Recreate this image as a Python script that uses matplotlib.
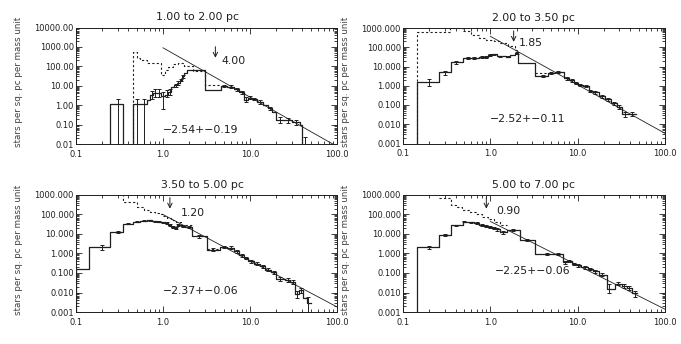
import numpy as np
import matplotlib
matplotlib.use("Agg")
import matplotlib.pyplot as plt
from matplotlib import ticker

# ---- data ----
titles = ["1.00 to 2.00 pc", "2.00 to 3.50 pc", "3.50 to 5.00 pc", "5.00 to 7.00 pc"]
fit_amp = [900, 370, 100, 44]          # fit value at 1 Msun
fit_slope = [-2.54, -2.52, -2.37, -2.25]
slope_err = [0.19, 0.11, 0.06, 0.06]
arrow_mass = [4.00, 1.85, 1.20, 0.90]
ylims = [(0.01, 1e4), (0.001, 1e3), (0.001, 1e3), (0.001, 1e3)]

# panel 1
p1_edges = [0.245, 0.346, 0.447, 0.548, 0.648, 0.707, 0.775, 0.85, 0.95, 1.05,
            1.15, 1.25, 1.35, 1.45, 1.55, 1.65, 1.75, 1.87, 3.04, 4.6,
            5.5, 6.5, 7.5, 8.5, 9.5, 10.5, 12, 14, 16, 18,
            20, 25, 30, 38, 39.5, 47]
p1_vals = [1.1, 0, 1.1, 1.1, 1.8, 3.3, 4.0, 4.2, 3.0, 3.2,
           5, 9, 11, 14, 20, 30, 45, 62, 5.8, 10,
           9, 6.5, 4.5, 1.9, 2.4, 2.1, 1.5, 1.0, 0.7, 0.45,
           0.18, 0.17, 0.13, 0.10, 0.003]
d1_edges = [0.447, 0.50, 0.548, 0.648, 0.85, 0.95, 1.05, 1.15, 1.3, 1.5, 1.75, 2.2, 3.04, 4.6]
d1_vals = [525, 255, 210, 155, 150, 35, 65, 96, 130, 150, 110, 60, 11]
e1_m = [0.3, 0.5, 0.6, 0.74, 0.81, 0.9, 1.0, 1.1, 1.2, 1.4, 1.5, 1.6, 1.7,
        5.0, 6.0, 7.0, 8.0, 9.0, 10.0, 11.2, 13, 17, 22, 27, 34, 43]
e1_lo = [0.01, 0.01, 0.01, 2.0, 2.5, 2.5, 0.6, 2.6, 3.5, 9, 11, 17, 26,
         8.5, 7.5, 5.5, 3.8, 1.4, 2.0, 1.8, 1.2, 0.55, 0.12, 0.12, 0.09, 0.001]
e1_hi = [2.1, 2.1, 2.1, 5.5, 7.0, 7.0, 4.5, 6.0, 6.5, 13, 17, 23, 34,
         11.5, 10.5, 7.5, 5.2, 2.6, 2.8, 2.4, 1.8, 0.85, 0.25, 0.22, 0.17, 0.023]

# panel 2
p2_edges = [0.144, 0.26, 0.357, 0.485, 0.55, 0.65, 0.75, 0.85, 0.95, 1.05,
            1.2, 1.35, 1.5, 1.7, 1.9, 2.1, 3.24, 4.6, 5.5, 6.9,
            8, 9, 10, 11.5, 13.5, 15, 17.5, 20.5, 24, 28,
            32, 38.5, 46]
p2_vals = [1.6, 5.4, 17.8, 28, 29, 28, 30, 31, 40, 43,
           37, 34, 33, 38, 50, 16, 3.3, 4.6, 5, 2.4,
           1.9, 1.4, 1.1, 1.0, 0.55, 0.45, 0.28, 0.2, 0.12, 0.08,
           0.035, 0.035]
d2_edges = [0.144, 0.345, 0.49, 0.6, 0.75, 0.9, 1.1, 1.3, 1.6, 1.9, 2.1, 3.24, 4.6]
d2_vals = [650, 950, 700, 450, 300, 240, 200, 160, 110, 70, np.nan, 4.8]
e2_m = [0.2, 0.3, 0.4, 0.55, 0.65, 0.8, 0.9, 1.0, 1.1, 1.3, 1.6, 2.0,
        4.0, 5.0, 6.0, 7.5, 8.5, 9.5, 10.5, 12.5, 14, 16, 19, 22, 26, 30, 35, 42]
e2_lo = [1.0, 3.8, 14, 25, 25, 27, 28, 36, 39, 31, 30, 45,
         2.9, 4.1, 4.5, 2.1, 1.6, 1.2, 0.95, 0.85, 0.47, 0.38, 0.23, 0.16, 0.1, 0.065, 0.025, 0.028]
e2_hi = [2.3, 6.0, 20, 31, 31, 34, 34, 44, 47, 37, 36, 55,
         3.7, 5.1, 5.5, 2.7, 2.2, 1.6, 1.25, 1.15, 0.63, 0.52, 0.33, 0.24, 0.14, 0.1, 0.045, 0.045]

# panel 3
p3_edges = [0.1, 0.141, 0.245, 0.346, 0.447, 0.55, 0.65, 0.75, 0.85, 0.95,
            1.05, 1.15, 1.25, 1.35, 1.45, 1.6, 1.8, 2.14, 3.17, 4.5,
            5.5, 6.5, 7.5, 8.5, 9.5, 11, 13, 15, 17.5, 20,
            25, 29, 33, 37, 41, 45, 50]
p3_vals = [0.155, 2.1, 13, 34, 42, 48, 50, 45, 42, 40,
           37, 30, 24, 21, 28, 25, 24, 7.5, 1.6, 2.2,
           2.0, 1.3, 0.8, 0.6, 0.4, 0.3, 0.22, 0.15, 0.11, 0.05,
           0.045, 0.035, 0.008, 0.014, 0.005, 0.003]
d3_edges = [0.245, 0.346, 0.5, 0.6, 0.7, 0.8, 0.9, 1.0, 1.1, 1.25, 1.4, 1.6, 2.14, 3.17, 4.5]
d3_vals = [2000, 435, 250, 180, 140, 115, 100, 88, 70, 55, 40, 30, np.nan, 1.8]
e3_m = [0.2, 0.3, 0.4, 0.5, 0.6, 0.7, 0.8, 0.9, 1.0, 1.1, 1.2, 1.3, 1.4, 1.5, 1.7, 2.0,
        2.6, 3.8, 5.0, 6.0, 7.0, 8.0, 9.0, 10.2, 12, 14, 16, 19, 22, 27, 31, 35, 39, 47]
e3_lo = [1.6, 11, 31, 39, 45, 47, 42, 39, 37, 34, 27, 21, 19, 25, 22, 21,
         6.5, 1.4, 1.9, 1.7, 1.1, 0.7, 0.5, 0.34, 0.26, 0.18, 0.12, 0.09, 0.04, 0.036, 0.027,
         0.005, 0.009, 0.001]
e3_hi = [2.8, 15, 37, 45, 51, 53, 48, 45, 43, 40, 33, 27, 24, 31, 28, 27,
         8.5, 1.9, 2.5, 2.3, 1.5, 0.92, 0.7, 0.46, 0.35, 0.26, 0.18, 0.13, 0.062, 0.056, 0.045,
         0.012, 0.018, 0.006]

# panel 4
p4_edges = [0.143, 0.26, 0.357, 0.485, 0.55, 0.65, 0.75, 0.85, 0.95, 1.05,
            1.15, 1.3, 1.55, 2.2, 3.24, 6.86, 7.5, 8.5, 9.5, 11,
            13, 15, 17.5, 21.5, 27, 32, 37, 42, 48]
p4_vals = [2.1, 9, 28, 42, 40, 36, 30, 26, 24, 21,
           18, 12, 16, 4.8, 0.95, 0.36, 0.4, 0.3, 0.25, 0.2,
           0.16, 0.12, 0.08, 0.016, 0.028, 0.022, 0.018, 0.009]
d4_edges = [0.26, 0.357, 0.40, 0.48, 0.58, 0.68, 0.8, 0.95, 1.1, 1.3, 1.55]
d4_vals = [680, 320, 230, 170, 130, 100, 75, 60, 42, 28]
e4_m = [0.2, 0.3, 0.4, 0.5, 0.6, 0.7, 0.8, 0.9, 1.0, 1.1, 1.2, 1.4, 1.8,
        2.6, 4.5, 6.0, 7.2, 8.0, 9.0, 10.2, 12, 14, 16, 19, 23, 29, 34, 39, 45]
e4_lo = [1.7, 8.2, 26, 39, 37, 33, 27, 23, 21, 18, 15, 10, 14,
         4.3, 0.85, 0.85, 0.3, 0.35, 0.26, 0.21, 0.17, 0.14, 0.1, 0.068, 0.009, 0.023, 0.018, 0.014, 0.006]
e4_hi = [2.5, 9.8, 30, 45, 43, 39, 33, 29, 27, 24, 21, 14, 18,
         5.3, 1.05, 1.05, 0.42, 0.46, 0.34, 0.29, 0.23, 0.18, 0.14, 0.095, 0.026, 0.034, 0.026, 0.021, 0.012]

solid = [(p1_edges, p1_vals), (p2_edges, p2_vals), (p3_edges, p3_vals), (p4_edges, p4_vals)]
dashed = [(d1_edges, d1_vals), (d2_edges, d2_vals), (d3_edges, d3_vals), (d4_edges, d4_vals)]
errs = [(e1_m, e1_lo, e1_hi), (e2_m, e2_lo, e2_hi), (e3_m, e3_lo, e3_hi), (e4_m, e4_lo, e4_hi)]


def steps(edges, vals, floor_start=True):
    e = np.asarray(edges, float)
    v = np.asarray(vals, float)
    v = np.where(v <= 0, 1e-9, v)
    x = np.repeat(e, 2)
    y = np.repeat(v, 2)
    x = x[1:-1]
    if floor_start:
        x = np.r_[e[0], x]
        y = np.r_[1e-9, y]
    return x, y


# ---- layout (pixel boxes: left, top, right, bottom) ----
W, H = 681, 344
boxes = [(76, 27.5, 337, 144), (403, 28, 665, 143.5), (76, 195, 337, 312), (403, 195, 665, 312)]
title_x = [0.464, 0.497, 0.485, 0.497]
slope_pos = [(1.0, 0.12), (1.0, 0.21), (1.0, 0.18), (1.13, 0.35)]
tip_y = [0.74, 0.88, 0.883, 0.883]
lab_off = [(4.7, -2.5), (3.6, -0.8), (8, -2.9), (7.2, -1.8)]
ink = "0.12"

fig = plt.figure(figsize=(W / 100, H / 100), dpi=100)

for i in range(4):
    l, t, r, b = boxes[i]
    ax = fig.add_axes([l / W, 1 - b / H, (r - l) / W, (b - t) / H])
    ax.set_xscale("log")
    ax.set_yscale("log")
    ax.set_xlim(0.1, 100)
    ax.set_ylim(*ylims[i])

    # solid histogram
    x, y = steps(*solid[i], floor_start=True)
    ax.plot(x, y, color=ink, lw=0.9)
    # upper dotted histogram
    x, y = steps(*dashed[i], floor_start=(i < 2))
    ax.plot(x, y, color=ink, lw=0.8, ls=(0, (2, 2)))
    # error bars
    m, lo, hi = (np.asarray(a, float) for a in errs[i])
    mid = np.sqrt(lo * hi)
    ax.errorbar(m, mid, yerr=[mid - lo, hi - mid], fmt="none", ecolor=ink,
                elinewidth=0.7, capsize=1.6, capthick=0.7)
    # power-law fit
    mm = np.array([1.0, 100.0])
    ax.plot(mm, fit_amp[i] * mm ** fit_slope[i], color=ink, lw=0.6)

    trans = ax.get_xaxis_transform()
    # arrow marking the turnover mass
    ma = arrow_mass[i]
    ax.annotate("", xy=(ma, tip_y[i]), xytext=(ma, tip_y[i] + 0.095), xycoords=trans,
                arrowprops=dict(arrowstyle="->", lw=0.7, color=ink, shrinkA=0, shrinkB=0,
                                mutation_scale=8))
    ax.annotate(f"{ma:.2f}", xy=(ma, tip_y[i]), xycoords=trans, xytext=lab_off[i],
                textcoords="offset points", ha="left", va="center", fontsize=7.8, color=ink)
    s = f"{fit_slope[i]:.2f}+-{slope_err[i]:.2f}".replace("-", "\u2212")
    ax.text(slope_pos[i][0], slope_pos[i][1], s, transform=trans, ha="left", va="center",
            fontsize=7.8, color=ink)

    ax.text(title_x[i], 1 + 10 / (b - t), titles[i], transform=ax.transAxes,
            ha="center", va="center", fontsize=7.8, color=ink)

    # axes styling, IDL like
    ax.set_xticks([0.1, 1, 10, 100])
    ax.set_xticklabels(["0.1", "1.0", "10.0", "100.0"])
    ax.xaxis.set_minor_locator(ticker.LogLocator(base=10, subs=np.arange(2, 10)))
    ax.xaxis.set_minor_formatter(ticker.NullFormatter())
    lo_e, hi_e = np.log10(ylims[i])
    ax.set_yticks(10.0 ** np.arange(lo_e, hi_e + 1))
    ax.yaxis.set_major_formatter(ticker.FormatStrFormatter("%.2f" if i == 0 else "%.3f"))
    ax.yaxis.set_minor_locator(ticker.LogLocator(base=10, subs=np.arange(2, 10), numticks=20))
    ax.yaxis.set_minor_formatter(ticker.NullFormatter())
    ax.tick_params(which="both", direction="in", top=True, right=True, colors=ink,
                   labelsize=6, width=0.6)
    ax.tick_params(which="major", length=4)
    ax.tick_params(which="minor", length=2)
    ax.tick_params(axis="x", pad=4)
    ax.tick_params(axis="y", pad=1.5)
    for sp in ax.spines.values():
        sp.set_linewidth(0.7)
        sp.set_color(ink)
    # y title, placed like the IDL output
    fig.text((l - 57.5) / W, 1 - ((t + b) / 2 - 4) / H, "stars per sq. pc per mass unit",
             rotation=90, ha="center", va="center", fontsize=6.3, color="0.25")

fig.savefig("out.png", dpi=100)
